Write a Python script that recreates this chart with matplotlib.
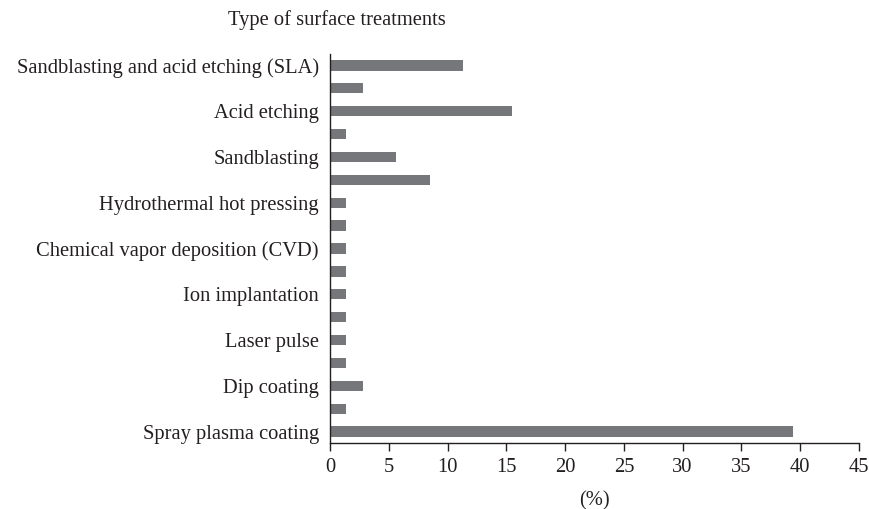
import matplotlib
matplotlib.use("Agg")
import matplotlib.pyplot as plt

categories = ["Sandblasting and acid etching (SLA)", "", "Acid etching", "", "Sandblasting", "",
              "Hydrothermal hot pressing", "", "Chemical vapor deposition (CVD)", "",
              "Ion implantation", "", "Laser pulse", "", "Dip coating", "", "Spray plasma coating"]
values = [11.3, 2.8, 15.5, 1.4, 5.6, 8.5, 1.4, 1.4, 1.4, 1.4, 1.4, 1.4, 1.4, 1.4, 2.8, 1.4, 39.4]
xticks = [0, 5, 10, 15, 20, 25, 30, 35, 40, 45]

plt.rcParams['font.family'] = ['Liberation Serif', 'DejaVu Serif']
FS = 14.8

fig = plt.figure(figsize=(8.7, 5.09), dpi=100)
ax = fig.add_axes([330/870, 1-443/509, (859-330)/870, (443-54)/509])

ypos = list(range(len(values)))
ax.barh(ypos, values, height=0.45, color='#76777b')
ax.set_yticks(ypos)
ax.set_yticklabels(categories, fontsize=FS, color='#231f20')
ax.set_ylim(len(values)-0.5, -0.5)
ax.set_xlim(0, 45)
ax.set_xticks(xticks)
ax.set_xticklabels([str(t) for t in xticks], fontsize=FS, color='#231f20')
ax.tick_params(axis='y', length=0, pad=8)
ax.tick_params(axis='x', length=6, width=1, direction='out', color='#231f20', pad=5)
for s in ['top', 'right']:
    ax.spines[s].set_visible(False)
for s in ['left', 'bottom']:
    ax.spines[s].set_color('#231f20')
    ax.spines[s].set_linewidth(1.0)
ax.set_xlabel("(%)", fontsize=FS, color='#231f20', labelpad=10)
fig.text(228/870, 1-20/509, "Type of surface treatments", fontsize=FS, color='#231f20',
         ha='left', va='center')

fig.savefig("out.png", dpi=100)
